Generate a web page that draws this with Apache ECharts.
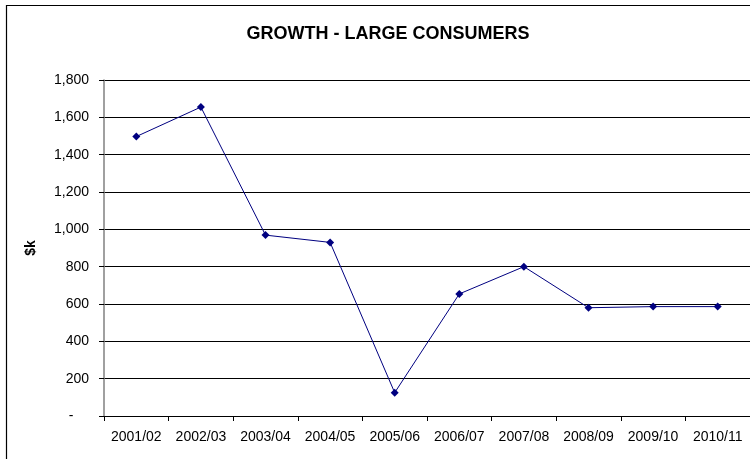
<!DOCTYPE html>
<html>
<head>
<meta charset="utf-8">
<title>Growth - Large Consumers</title>
<script src="https://cdn.jsdelivr.net/npm/echarts@6/dist/echarts.min.js"></script>
<style>
  html, body { margin: 0; padding: 0; background: #fff; }
  #chart { width: 750px; height: 459px; }
</style>
</head>
<body>
<div id="chart"></div>
<script>
// Financial years on the category axis
var years = ['2001/02', '2002/03', '2003/04', '2004/05', '2005/06',
             '2006/07', '2007/08', '2008/09', '2009/10', '2010/11'];

// Growth from large consumers, in $k
var growth = [1497, 1655, 969, 930, 125, 654, 800, 580, 586, 586];

// Value axis range and step
var yMin = 0;
var yMax = 1800;
var yStep = 200;

var chartTitle = 'GROWTH - LARGE CONSUMERS';
var yAxisTitle = '$k';

// Accounting-style labels: thousands separators, a dash for zero
function formatThousands(v) {
  if (v === 0) return '-    ';
  return String(v).replace(/\B(?=(\d{3})+(?!\d))/g, ',');
}

var chart = echarts.init(document.getElementById('chart'), null, { renderer: 'canvas' });

chart.setOption({
  backgroundColor: '#ffffff',
  animation: false,
  title: {
    text: chartTitle,
    left: 383,
    top: 20,
    textAlign: 'center',
    textStyle: {
      fontFamily: 'Liberation Sans, Arial, sans-serif',
      fontSize: 18,
      fontWeight: 'bold',
      color: '#000'
    }
  },
  graphic: [{
    type: 'rect',
    shape: { x: 6.5, y: 5.5, width: 800, height: 500 },
    style: { fill: 'none', stroke: '#000', lineWidth: 1.2 },
    silent: true,
    z: -1
  }],
  grid: {
    left: 104,
    top: 80,
    right: 0,
    bottom: 43,
    containLabel: false
  },
  xAxis: {
    type: 'category',
    data: years,
    boundaryGap: true,
    axisLine: { show: true, lineStyle: { color: '#000', width: 1 } },
    axisTick: { show: true, length: 5, alignWithLabel: false, lineStyle: { color: '#000' } },
    axisLabel: {
      margin: 14,
      color: '#000',
      fontFamily: 'Liberation Sans, Arial, sans-serif',
      fontSize: 14,
      interval: 0
    },
    splitLine: { show: false }
  },
  yAxis: {
    type: 'value',
    min: yMin,
    max: yMax,
    interval: yStep,
    name: yAxisTitle,
    nameLocation: 'middle',
    nameRotate: 90,
    nameGap: 66,
    nameTextStyle: {
      fontFamily: 'Liberation Sans, Arial, sans-serif',
      fontSize: 14,
      fontWeight: 'bold',
      color: '#000'
    },
    axisLine: { show: true, lineStyle: { color: '#808080', width: 1.5 } },
    axisTick: { show: true, inside: false, length: 5, lineStyle: { color: '#000' } },
    axisLabel: {
      margin: 15,
      color: '#000',
      fontFamily: 'Liberation Sans, Arial, sans-serif',
      fontSize: 14,
      formatter: formatThousands
    },
    splitLine: { show: true, lineStyle: { color: '#000', width: 1 } }
  },
  series: [{
    type: 'line',
    data: growth,
    symbol: 'diamond',
    symbolSize: 8,
    showAllSymbol: true,
    lineStyle: { color: '#000080', width: 1 },
    itemStyle: { color: '#000080', borderWidth: 0 },
    emphasis: { disabled: true }
  }]
});
</script>
</body>
</html>
